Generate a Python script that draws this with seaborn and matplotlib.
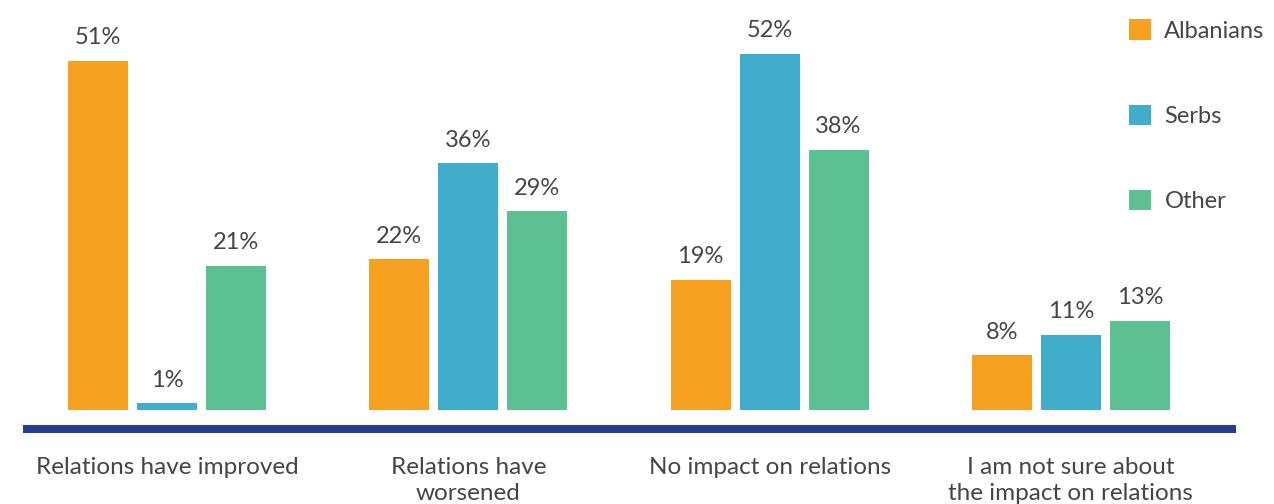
import matplotlib
matplotlib.use("Agg")
import matplotlib.pyplot as plt
import seaborn as sns
import pandas as pd

# Survey responses: perceived effect on inter-ethnic relations, by group (%)
categories = [
    "Relations have improved",
    "Relations have\nworsened",
    "No impact on relations",
    "I am not sure about\nthe impact on relations",
]
groups = ["Albanians", "Serbs", "Other"]
albanians = [51, 22, 19, 8]
serbs = [1, 36, 52, 11]
other = [21, 29, 38, 13]

palette = ["#F5A01F", "#40AECB", "#5CC092"]
navy = "#243E8D"
text_color = "#454545"

df = pd.DataFrame({
    "category": categories * 3,
    "group": [g for g in groups for _ in categories],
    "value": albanians + serbs + other,
})

sns.set_theme(style="white")
plt.rcParams["font.family"] = ["Lato", "DejaVu Sans"]

fig = plt.figure(figsize=(12.74, 5.04), dpi=100)
ax = fig.add_axes([23 / 1274, 75 / 504, (1236 - 23) / 1274, 429 / 504])

sns.barplot(data=df, x="category", y="value", hue="group", hue_order=groups,
            palette=palette, width=0.687, gap=0.13, saturation=1,
            linewidth=0, ax=ax)

ax.set_xlim(-0.478, 3.548)
ax.set_ylim(-2.77, 59.85)

# value labels above each bar
for container in ax.containers:
    for bar in container:
        h = bar.get_height()
        ax.annotate(f"{h:.0f}%", (bar.get_x() + bar.get_width() / 2, h),
                    xytext=(0, 12), textcoords="offset points",
                    ha="center", va="baseline", fontsize=17,
                    color=text_color)

for side in ["top", "right", "left"]:
    ax.spines[side].set_visible(False)
ax.spines["bottom"].set_color(navy)
ax.spines["bottom"].set_linewidth(5.8)
ax.spines["bottom"].set_capstyle("butt")
ax.set_yticks([])
ax.set_xlabel("")
ax.set_ylabel("")
ax.tick_params(axis="x", length=0, pad=20, labelsize=17.5, labelcolor=text_color)
for lbl in ax.get_xticklabels():
    lbl.set_linespacing(1.3)

handles, labels = ax.get_legend_handles_labels()
leg = ax.legend(handles, labels, loc="upper left",
                bbox_to_anchor=(1120 / 1274, 1 - 10 / 504),
                bbox_transform=fig.transFigure, frameon=False,
                fontsize=17, labelcolor=text_color,
                handlelength=0.93, handleheight=0.93, handletextpad=0.55,
                labelspacing=2.68, borderaxespad=0)

fig.savefig("out.png", dpi=100)
